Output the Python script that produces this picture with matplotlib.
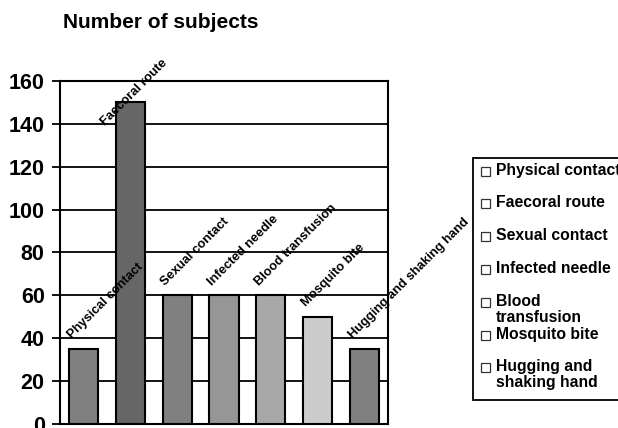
import matplotlib
matplotlib.use('Agg')
import matplotlib.pyplot as plt
from matplotlib.patches import Rectangle

plt.rcParams['font.family'] = ['Liberation Sans', 'DejaVu Sans']

categories = ['Physical contact', 'Faecoral route', 'Sexual contact', 'Infected needle',
              'Blood transfusion', 'Mosquito bite', 'Hugging and shaking hand']
legend_labels = ['Physical contact', 'Faecoral route', 'Sexual contact', 'Infected needle',
                 'Blood\ntransfusion', 'Mosquito bite', 'Hugging and\nshaking hand']
counts = [35, 150, 60, 60, 60, 50, 35]
bar_colors = ['#808080', '#666666', '#808080', '#969696', '#a8a8a8', '#cccccc', '#808080']
yticks = [0, 20, 40, 60, 80, 100, 120, 140, 160]

W, H = 618, 428
fig = plt.figure(figsize=(W / 100, H / 100), dpi=100)
ax = fig.add_axes([60 / W, 4 / H, 328 / W, 343 / H])

x = list(range(len(categories)))
bw = 0.62
ax.bar(x, counts, width=bw, color=bar_colors, edgecolor='black', linewidth=1.5, zorder=3)

ax.set_xlim(-0.5, len(categories) - 0.5)
ax.set_ylim(0, 160)
ax.set_xticks([])
ax.set_yticks(yticks)
ax.set_yticklabels([str(t) for t in yticks], fontsize=15.5, fontweight='bold')
ax.tick_params(axis='y', direction='out', length=6, width=1.3, pad=5)
ax.yaxis.grid(True, color='black', linewidth=1.3, zorder=1)
ax.set_axisbelow(True)
for s in ax.spines.values():
    s.set_linewidth(1.5)

# data labels, rotated, starting at the bar's left edge
y_cap = 139
for i, (cat, v) in enumerate(zip(categories, counts)):
    ly = v + 4.5
    lx = i - bw / 2 + 0.06
    if ly > y_cap:
        lx -= (ly - y_cap) * 0.018
        ly = y_cap
    ax.text(lx, ly, cat, rotation=45, rotation_mode='anchor', ha='left', va='baseline',
            fontsize=9.3, fontweight='bold', clip_on=False, zorder=4)

fig.text(63 / W, 1 - 22 / H, 'Number of subjects', fontsize=15, fontweight='bold',
         ha='left', va='center')

# legend box
box_top, box_bot = 158, 400
fig.patches.append(Rectangle((473 / W, 1 - box_bot / H), 200 / W, (box_bot - box_top) / H,
                             transform=fig.transFigure, facecolor='white',
                             edgecolor='black', linewidth=1.3))
y0, step = 171, 32.8
for i, lab in enumerate(legend_labels):
    yc = y0 + i * step
    fig.patches.append(Rectangle((481 / W, 1 - (yc + 4.5) / H), 9 / W, 9 / H,
                                 transform=fig.transFigure, facecolor='white',
                                 edgecolor='#333333', linewidth=0.9))
    fig.text(496 / W, 1 - (yc - 8.5) / H, lab, fontsize=11.3, fontweight='bold',
             ha='left', va='top', linespacing=1.1)

fig.savefig('out.png', dpi=100)
